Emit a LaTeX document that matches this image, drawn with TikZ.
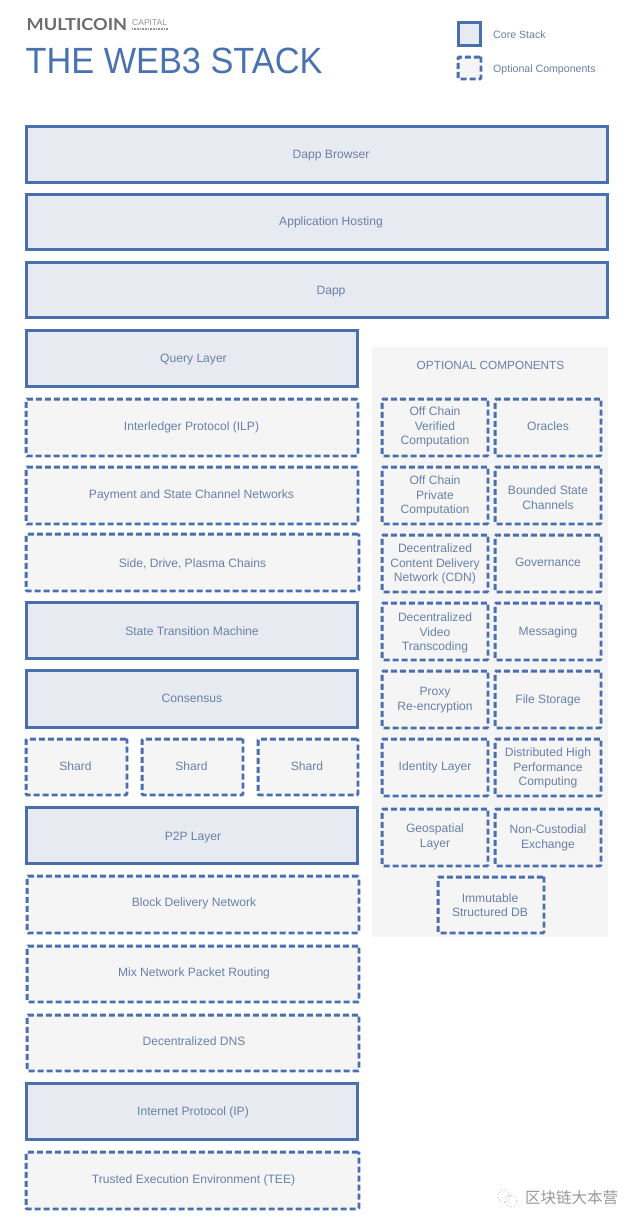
\documentclass[tikz,border=0pt]{standalone}
\usepackage{fontspec}
\setmainfont{Liberation Sans}
\newfontfamily\cjkfont{Noto Sans CJK SC}
\newfontfamily\brandfont{Lato}
\definecolor{edgeblue}{HTML}{4A6FAE}
\definecolor{txtblue}{HTML}{6A80A8}
\definecolor{titleblue}{HTML}{4A72B0}
\definecolor{corefill}{HTML}{E7EAF0}
\definecolor{optfill}{HTML}{F5F5F6}
\definecolor{panelfill}{HTML}{F5F5F6}
\tikzset{
  x=1pt,y=-1pt,
  lbl/.style={text=txtblue,font=\fontsize{12.1}{14.5}\selectfont,align=center,inner sep=0pt,outer sep=0pt},
  oneline/.style={lbl,text height=9pt,text depth=3pt,yshift=-1.5pt},
  corebox/.style={draw=edgeblue,fill=corefill,line width=3.3pt,inner sep=0pt},
  optbox/.style={draw=edgeblue,fill=optfill,line width=2.8pt,dash pattern=on 6pt off 3pt,rounded corners=1pt,inner sep=0pt},
  legendlbl/.style={text=txtblue,font=\fontsize{10.6}{12}\selectfont,inner sep=0pt,anchor=west},
}
% name, x1, y1, x2, y2 (outer edges)
\newcommand{\cbx}[5]{\node[corebox,minimum width=#4pt-#2pt-2.6pt,minimum height=#5pt-#3pt-2.6pt] (#1) at ({(#2+#4)/2},{(#3+#5)/2}) {};}
\newcommand{\obx}[5]{\node[optbox,minimum width=#4pt-#2pt-2.2pt,minimum height=#5pt-#3pt-2.2pt] (#1) at ({(#2+#4)/2},{(#3+#5)/2}) {};}
% name, x, y, text
\newcommand{\tx}[4]{\node[oneline] (#1) at (#2,#3) {#4};}
\newcommand{\mx}[4]{\node[lbl] (#1) at (#2,#3) {#4};}
\begin{document}
\begin{tikzpicture}
\useasboundingbox (0,0) rectangle (640,1227);
\fill[white] (0,0) rectangle (640,1227);
% header
\node[anchor=west,inner sep=0pt,text=gray!85!black,font=\brandfont\bfseries\fontsize{16.5}{17}\selectfont] (brand) at (26.5,25) {\scalebox{1.1}[1]{MULTICOIN}};
\node[anchor=west,inner sep=0pt,text=gray!85,font=\fontsize{8.5}{9}\selectfont] (capital) at (132,23) {CAPITAL};
\draw[gray!85,line width=1.4pt,dash pattern=on 1pt off .6pt] (132,29) -- (168,29);
\node[anchor=west,inner sep=0pt,text=titleblue,font=\fontsize{36.5}{40}\selectfont] (title) at (25.5,60.5) {\scalebox{0.94}[1]{THE WEB3 STACK}};
% legend
\cbx{lcore}{457}{21}{482}{47}
\obx{lopt}{457}{56}{482}{80}
\node[legendlbl] (lcoret) at (493,34.5) {Core Stack};
\node[legendlbl] (loptt) at (493,69.8) {Optional Components};
% panel
\fill[panelfill] (372,347) rectangle (608,937);
\node[oneline,font=\fontsize{11.8}{14}\selectfont] (paneltitle) at (490.5,365) {OPTIONAL COMPONENTS};
% main stack
\cbx{browser}{25}{125}{609}{184}\tx{browsert}{331}{154}{Dapp Browser}
\cbx{hosting}{25}{193}{609}{251}\tx{hostingt}{331}{221}{Application Hosting}
\cbx{dapp}{25}{261}{609}{319}\tx{dappt}{331}{290}{Dapp}
\cbx{query}{25}{329}{359}{388}\tx{queryt}{193.5}{358}{Query Layer}
\obx{ilp}{25}{398}{359}{457}\tx{ilpt}{191.5}{425.5}{Interledger Protocol (ILP)}
\obx{payment}{25}{466}{359}{525}\tx{paymentt}{191.5}{493.5}{Payment and State Channel Networks}
\obx{side}{25}{533}{360}{592}\tx{sidet}{192.5}{563}{Side, Drive, Plasma Chains}
\cbx{stm}{25}{601}{359}{660}\tx{stmt}{192}{631}{State Transition Machine}
\cbx{consensus}{25}{669}{359}{729}\tx{consensust}{192}{698}{Consensus}
\obx{sharda}{25}{738}{128}{796}\tx{shardat}{75.5}{765.5}{Shard}
\obx{shardb}{141}{738}{244}{796}\tx{shardbt}{191.5}{765.5}{Shard}
\obx{shardc}{257}{738}{359}{796}\tx{shardct}{307}{765.5}{Shard}
\cbx{ptp}{25}{806}{359}{865}\tx{ptpt}{193}{835.5}{P2P Layer}
\obx{block}{26}{875}{360}{934}\tx{blockt}{194}{902}{Block Delivery Network}
\obx{mix}{26}{945}{360}{1003}\tx{mixt}{194}{971.5}{Mix Network Packet Routing}
\obx{dns}{26}{1014}{360}{1072}\tx{dnst}{194}{1040.5}{Decentralized DNS}
\cbx{ip}{25}{1082}{359}{1141}\tx{ipt}{193}{1111}{Internet Protocol (IP)}
\obx{tee}{25}{1151}{360}{1210}\tx{teet}{193.5}{1178.5}{Trusted Execution Environment (TEE)}
% optional components
\obx{ocv}{381}{398}{489}{457}\mx{ocvt}{435}{427}{Off Chain\\Verified\\Computation}
\obx{oracles}{494}{398}{602}{457}\tx{oraclest}{548}{425.5}{Oracles}
\obx{ocp}{381}{466}{489}{525}\mx{ocpt}{435}{496}{Off Chain\\Private\\Computation}
\obx{bsc}{494}{466}{602}{525}\mx{bsct}{548}{497.5}{Bounded State\\Channels}
\obx{cdn}{381}{534}{489}{593}\mx{cdnt}{435}{564}{Decentralized\\Content Delivery\\Network (CDN)}
\obx{gov}{494}{534}{602}{593}\tx{govt}{548}{561.5}{Governance}
\obx{video}{381}{602}{489}{661}\mx{videot}{435}{633}{Decentralized\\Video\\Transcoding}
\obx{msg}{494}{602}{602}{661}\tx{msgt}{548}{631}{Messaging}
\obx{proxy}{381}{670}{489}{729}\mx{proxyt}{435}{700}{Proxy\\Re-encryption}
\obx{files}{494}{670}{602}{729}\tx{filest}{548}{698.5}{File Storage}
\obx{idl}{381}{738}{489}{797}\tx{idlt}{435}{765.5}{Identity Layer}
\obx{hpc}{494}{738}{602}{797}\mx{hpct}{548}{768}{Distributed High\\Performance\\Computing}
\obx{geo}{381}{808}{489}{867}\mx{geot}{435}{837}{Geospatial\\Layer}
\obx{nce}{494}{808}{602}{867}\mx{ncet}{548}{838}{Non-Custodial\\Exchange}
\obx{imm}{437}{876}{545}{934}\mx{immt}{490}{905}{Immutable\\Structured DB}
% watermark
\draw[gray!55,line width=.8pt,dotted] (504,1196) circle (6);
\draw[gray!55,line width=.8pt,dotted] (511,1201) circle (6);
\node[anchor=west,inner sep=0pt,text=gray!80,font=\cjkfont\fontsize{15.5}{16}\selectfont] (mark) at (525,1198) {区块链大本营};
\end{tikzpicture}
\end{document}
